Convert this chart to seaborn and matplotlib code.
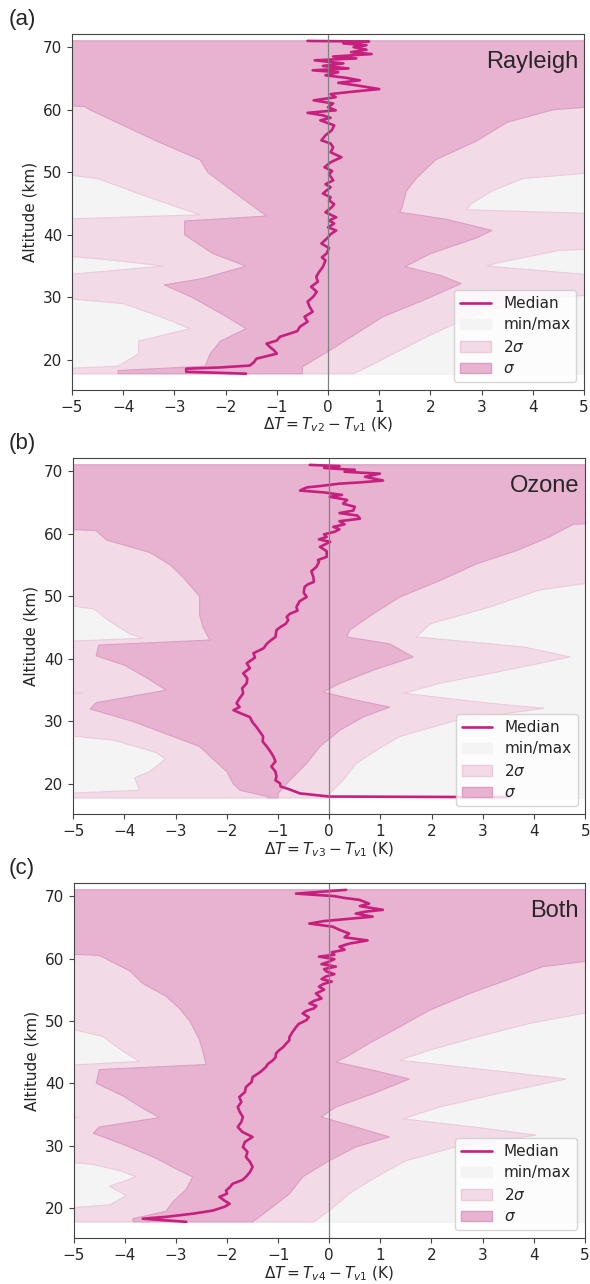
import numpy as np
import matplotlib
matplotlib.use("Agg")
import matplotlib.pyplot as plt
from matplotlib.patches import Patch
from matplotlib.lines import Line2D
import seaborn as sns

# (altitude km, dT K) pairs; +-6 means "beyond the axis"
MED_A = [(71.0, -0.4), (70.9, 0.8), (70.6, 0.3), (70.3, 0.75), (70.0, 0.5), (69.6, 0.75),
         (69.2, 0.45), (68.9, 0.85), (68.5, 0.1), (68.2, 0.55), (67.9, -0.26), (67.4, 0.3),
         (67.0, -0.1), (66.6, 0.4), (66.3, -0.3), (66.0, 0.2), (65.5, -0.05), (65.1, 0.35),
         (64.7, 0.62), (64.3, 0.2), (63.9, 0.55), (63.3, 1.0), (62.9, 0.5), (62.5, 0.05),
         (62.0, 0.15), (61.5, -0.28), (61.0, 0.1), (60.4, 0.0), (59.9, 0.15), (59.5, -0.4),
         (59.1, -0.1), (58.7, 0.05), (58.3, -0.15), (57.5, 0.12), (56.7, 0.07), (55.9, -0.05),
         (55.1, -0.13), (54.6, 0.05), (54.0, 0.1), (53.2, 0.05), (52.4, 0.26), (51.6, 0.05),
         (50.8, -0.07), (50.2, 0.08), (49.7, 0.02), (48.7, 0.1), (48.1, -0.05), (47.6, 0.05),
         (46.6, -0.1), (46.0, 0.05), (45.5, 0.02), (44.9, 0.12), (44.4, 0.07), (43.6, -0.05),
         (42.8, 0.16), (42.3, 0.02), (41.8, 0.12), (41.2, 0.0), (40.7, 0.16), (40.1, 0.05),
         (39.6, 0.0), (38.6, -0.13), (37.9, 0.02), (37.0, -0.03), (36.4, -0.12), (35.9, -0.05),
         (34.9, -0.1), (34.0, -0.18), (33.3, -0.23), (32.5, -0.2), (31.7, -0.33), (30.9, -0.22),
         (30.1, -0.29), (29.3, -0.4), (28.5, -0.36), (27.7, -0.3), (26.9, -0.46), (26.1, -0.4),
         (25.3, -0.55), (24.6, -0.6), (24.2, -0.75), (23.7, -0.94), (23.1, -1.0), (22.6, -1.2),
         (22.1, -1.14), (21.5, -1.05), (21.0, -1.0), (20.6, -1.2), (20.2, -1.4), (19.6, -1.45),
         (19.1, -1.53), (18.8, -2.1), (18.6, -2.77), (18.1, -2.77), (17.8, -1.6)]
SIG_LO_A = [(71.0, -6), (61.0, -6), (60.5, -4.75), (60.0, -4.65), (57.5, -4.0), (55.0, -3.35),
            (52.0, -2.5), (50.0, -2.35), (46.0, -1.7), (43.0, -1.2), (42.2, -2.8), (40.0, -2.8),
            (37.0, -2.25), (35.0, -1.6), (33.0, -2.45), (32.0, -3.2), (30.0, -2.65), (27.0, -2.0),
            (25.0, -1.6), (23.0, -2.1), (21.0, -2.3), (19.0, -2.4), (18.3, -4.1), (17.8, -4.1)]
SIG_HI_A = [(71.0, 6), (61.0, 6), (60.0, 4.4), (58.0, 3.5), (55.0, 2.9), (52.0, 2.1),
            (49.0, 1.72), (47.0, 1.53), (44.5, 1.45), (43.6, 1.4), (42.5, 2.3), (40.7, 3.2),
            (39.5, 2.9), (37.0, 2.0), (34.9, 1.5), (33.5, 2.2), (32.2, 2.6), (29.5, 1.85),
            (26.9, 1.07), (24.2, 0.55), (21.5, 0.03), (18.9, -0.5), (17.8, -0.5)]
TWO_LO_A = [(71.0, -6), (50.5, -6), (49.0, -4.5), (46.0, -3.5), (43.2, -2.5), (42.3, -6),
            (37.2, -6), (36.0, -4.26), (35.0, -3.2), (33.0, -6), (30.5, -6), (29.0, -4.0),
            (27.0, -3.3), (25.0, -2.7), (23.0, -3.7), (21.0, -3.7), (19.0, -4.1), (18.3, -6),
            (17.8, -6)]
TWO_HI_A = [(71.0, 6), (50.5, 6), (49.0, 3.8), (47.0, 3.2), (45.0, 2.8), (44.0, 2.7),
            (43.2, 6), (38.0, 6), (37.5, 4.5), (35.5, 3.3), (35.0, 3.1), (33.0, 6), (31.0, 6),
            (29.5, 3.8), (27.0, 2.8), (24.0, 2.0), (21.5, 1.4), (19.0, 0.8), (17.8, 0.5)]

MED_B = [(71.0, -0.38), (70.8, 0.2), (70.5, -0.1), (70.2, 0.5), (69.9, 0.3), (69.6, 0.99),
         (69.1, 0.7), (68.5, 1.05), (68.2, 0.6), (68.0, 0.2), (67.6, -0.2), (67.4, -0.44),
         (66.9, -0.57), (66.6, -0.1), (66.2, 0.25), (65.9, 0.01), (65.4, 0.35), (64.8, 0.27),
         (64.3, 0.5), (63.7, 0.47), (63.3, 0.2), (62.9, 0.55), (62.4, 0.6), (62.0, 0.2),
         (61.5, 0.3), (61.1, 0.08), (60.7, 0.2), (60.3, 0.1), (59.9, -0.1), (59.5, -0.05),
         (59.1, -0.2), (58.7, 0.02), (57.9, -0.18), (57.2, -0.05), (56.3, -0.05), (55.8, -0.22),
         (55.5, -0.2), (54.7, -0.25), (54.0, -0.35), (53.1, -0.31), (52.3, -0.3), (51.9, -0.42),
         (51.5, -0.48), (50.6, -0.5), (49.9, -0.44), (49.2, -0.58), (48.3, -0.64), (47.7, -0.62),
         (47.2, -0.77), (46.7, -0.83), (46.2, -0.8), (45.6, -0.85), (45.1, -0.95), (44.6, -1.03),
         (43.5, -1.05), (42.9, -1.15), (42.4, -1.22), (41.7, -1.28), (40.9, -1.48), (40.2, -1.45),
         (39.3, -1.61), (38.5, -1.55), (37.7, -1.68), (36.9, -1.6), (36.1, -1.61), (35.3, -1.7),
         (34.5, -1.68), (33.7, -1.75), (32.9, -1.81), (32.3, -1.75), (31.8, -1.87), (31.2, -1.7),
         (30.7, -1.55), (29.9, -1.5), (29.1, -1.42), (28.3, -1.35), (27.6, -1.29), (26.8, -1.3),
         (26.0, -1.22), (25.2, -1.15), (24.4, -1.09), (23.6, -1.05), (22.8, -1.13), (22.0, -1.05),
         (21.2, -1.03), (20.6, -1.05), (20.1, -0.96), (19.6, -0.95), (19.3, -0.83), (18.9, -0.7),
         (18.5, -0.57), (18.0, 0.0), (17.9, 3.5)]
SIG_LO_B = [(71.0, -6), (61.0, -6), (60.5, -4.55), (59.0, -4.35), (57.0, -3.5), (55.0, -3.1),
            (53.0, -2.85), (50.0, -2.53), (47.0, -2.53), (45.0, -2.46), (43.0, -2.33),
            (42.2, -4.5), (40.5, -4.55), (39.0, -4.0), (37.0, -3.57), (35.0, -3.18),
            (33.0, -4.55), (32.0, -4.67), (30.0, -3.83), (28.0, -3.18), (26.0, -2.53),
            (24.0, -2.27), (22.0, -2.0), (20.0, -1.87), (19.0, -1.74), (18.0, -1.2), (17.8, -1.2)]
SIG_HI_B = [(71.0, 6), (62.0, 6), (61.5, 4.76), (59.5, 4.3), (57.3, 3.66), (55.2, 2.88),
            (52.5, 2.16), (49.9, 1.38), (47.2, 0.86), (44.6, 0.4), (43.5, 0.34), (42.4, 1.18),
            (40.3, 1.64), (38.2, 0.86), (36.1, 0.21), (34.7, -0.12), (33.4, 0.53), (32.3, 1.18),
            (30.7, 0.66), (28.6, 0.21), (26.0, -0.18), (23.3, -0.44), (20.6, -0.77),
            (18.5, -1.0), (17.8, -1.0)]
TWO_LO_B = [(71.0, -6), (49.5, -6), (48.0, -4.6), (46.0, -4.28), (44.0, -3.9), (43.3, -3.63),
            (42.5, -6), (35.5, -6), (34.5, -4.8), (33.5, -6), (28.5, -6), (27.0, -4.2),
            (25.0, -3.37), (24.0, -3.2), (22.0, -3.5), (21.0, -3.8), (19.0, -3.7), (18.2, -6),
            (17.8, -6)]
TWO_HI_B = [(71.0, 6), (52.5, 6), (52.0, 4.96), (51.0, 4.1), (48.3, 3.14), (45.6, 1.97),
            (43.5, 1.7), (41.9, 3.8), (40.3, 4.7), (38.2, 3.46), (36.1, 2.16), (34.5, 1.45),
            (32.9, 3.14), (32.1, 4.2), (30.2, 2.49), (27.6, 1.38), (25.4, 0.92), (23.3, 0.53),
            (20.6, 0.27), (18.5, 0.01), (17.8, 0.0)]

MED_C = [(71.0, 0.33), (70.4, -0.65), (70.0, 0.1), (69.7, 0.3), (69.4, 0.59), (68.8, 0.78),
         (68.4, 0.6), (67.8, 1.05), (67.5, 0.7), (67.2, 0.52), (66.7, 0.85), (66.3, 0.3),
         (66.0, -0.1), (65.6, -0.39), (65.1, 0.07), (64.6, 0.2), (64.0, 0.39), (63.4, 0.3),
         (62.9, 0.75), (62.4, 0.4), (61.9, 0.2), (61.4, 0.3), (61.0, 0.05), (60.6, 0.1),
         (60.3, -0.2), (59.9, 0.1), (59.5, 0.0), (59.1, -0.15), (58.7, 0.13), (58.3, -0.1),
         (57.9, -0.05), (57.5, 0.1), (57.1, -0.07), (56.7, -0.15), (56.3, 0.05), (55.9, -0.12),
         (55.5, -0.2), (55.0, -0.1), (54.4, -0.26), (53.6, -0.15), (53.2, -0.3), (52.8, -0.39),
         (52.4, -0.25), (52.0, -0.3), (51.6, -0.45), (51.2, -0.52), (50.6, -0.4), (50.1, -0.45),
         (49.5, -0.6), (49.0, -0.65), (48.2, -0.72), (47.4, -0.78), (46.9, -0.78), (46.3, -0.85),
         (45.8, -0.9), (45.3, -0.98), (44.8, -1.04), (44.2, -1.05), (43.7, -1.1), (43.1, -1.2),
         (42.6, -1.24), (41.8, -1.35), (41.0, -1.5), (40.2, -1.52), (39.4, -1.63), (38.6, -1.65),
         (37.8, -1.76), (37.0, -1.72), (36.2, -1.79), (35.4, -1.75), (34.6, -1.69), (33.8, -1.72),
         (33.0, -1.79), (32.2, -1.7), (31.4, -1.5), (30.6, -1.65), (29.8, -1.69), (29.0, -1.6),
         (28.2, -1.63), (27.4, -1.55), (26.6, -1.5), (25.8, -1.55), (25.0, -1.63), (24.5, -1.7),
         (23.9, -1.89), (23.3, -1.95), (22.8, -2.02), (22.3, -2.0), (21.8, -2.15), (21.2, -2.05),
         (20.7, -1.95), (20.2, -2.05), (19.6, -2.28), (19.1, -2.67), (18.6, -3.19), (18.3, -3.65),
         (17.8, -2.8)]
SIG_LO_C = [(71.0, -6), (61.0, -6), (60.5, -4.5), (58.0, -3.9), (56.0, -3.65), (54.0, -3.2),
            (52.0, -2.93), (50.0, -2.73), (47.0, -2.54), (45.0, -2.47), (43.0, -2.41),
            (42.2, -4.5), (40.0, -4.56), (38.0, -4.04), (36.0, -3.65), (34.5, -3.32),
            (33.0, -4.5), (32.0, -4.62), (30.0, -3.97), (28.0, -3.39), (26.0, -2.93),
            (25.0, -2.67), (23.0, -2.8), (21.0, -3.06), (19.5, -3.19), (18.3, -3.84), (17.8, -3.84)]
SIG_HI_C = [(71.0, 6), (60.5, 6), (58.7, 4.18), (56.5, 3.46), (54.4, 2.75), (51.7, 1.96),
            (49.0, 1.37), (46.4, 0.78), (44.2, 0.33), (43.4, 0.13), (42.1, 0.85), (40.7, 1.57),
            (38.3, 0.85), (36.2, 0.13), (34.6, -0.16), (33.0, 0.52), (31.4, 1.18), (29.8, 0.52),
            (27.6, 0.0), (25.0, -0.52), (22.3, -0.78), (19.6, -1.2), (17.8, -1.5)]
TWO_LO_C = [(71.0, -6), (50.0, -6), (48.5, -4.95), (47.5, -4.43), (45.5, -4.1), (43.5, -3.71),
            (42.5, -6), (35.5, -6), (34.5, -4.9), (33.5, -6), (28.0, -6), (27.0, -4.62),
            (26.0, -4.1), (25.0, -3.78), (23.5, -4.3), (22.0, -3.97), (20.5, -4.3), (19.5, -6),
            (17.8, -6)]
TWO_HI_C = [(71.0, 6), (51.5, 6), (51.2, 4.97), (49.6, 3.92), (47.4, 2.88), (45.3, 1.96),
            (43.7, 1.37), (42.1, 3.14), (40.7, 4.64), (38.3, 3.27), (36.2, 2.16), (34.3, 1.44),
            (33.0, 2.81), (31.7, 4.05), (29.8, 2.48), (27.6, 1.5), (25.0, 0.92), (22.3, 0.39),
            (19.6, 0.0), (17.8, -0.3)]

MINMAX_LO = [(71.0, -6), (17.8, -6)]
MINMAX_HI = [(71.0, 6), (17.8, 6)]

PANELS = ["(a)", "(b)", "(c)"]
NAMES = ["Rayleigh", "Ozone", "Both"]
XLABELS = [r"$\Delta T = T_{v2} - T_{v1}$ (K)",
           r"$\Delta T = T_{v3} - T_{v1}$ (K)",
           r"$\Delta T = T_{v4} - T_{v1}$ (K)"]

C_MED = "#c61f7e"
C_SIG = "#e8b3d1"
C_TWO = "#f2dbe7"
C_MM = "#f4f4f4"


def band(ax, lo, hi, color, edge):
    lo = np.array(lo)
    hi = np.array(hi)
    xs = np.concatenate([lo[:, 1], hi[::-1, 1]])
    ys = np.concatenate([lo[:, 0], hi[::-1, 0]])
    ax.fill(xs, ys, fc=color, lw=0.8, ec=edge)


def draw(ax, med, sig_lo, sig_hi, two_lo, two_hi, i):
    band(ax, MINMAX_LO, MINMAX_HI, C_MM, C_MM)
    band(ax, two_lo, two_hi, C_TWO, "#eccadc")
    band(ax, sig_lo, sig_hi, C_SIG, "#dc9ec3")
    m = np.array(med)
    sns.lineplot(x=m[:, 1], y=m[:, 0], orient="y", sort=False, estimator=None,
                 color=C_MED, lw=1.9, ax=ax)
    ax.axvline(0, color="#808080", lw=0.9)

    ax.set_xlim(-5, 5)
    ax.set_ylim(15.2, 72.1)
    ax.set_xticks(range(-5, 6))
    ax.set_yticks([20, 30, 40, 50, 60, 70])
    ax.set_xlabel(XLABELS[i], fontsize=11, labelpad=1)
    ax.set_ylabel("Altitude (km)", fontsize=11)
    ax.tick_params(labelsize=11, color="#444444")
    for s in ax.spines.values():
        s.set_color("#444444")
        s.set_visible(True)

    ax.text(0.988, 0.92, NAMES[i], transform=ax.transAxes, ha="right", va="center",
            fontsize=17, family="Liberation Sans")

    handles = [Line2D([], [], color=C_MED, lw=1.9),
               Patch(facecolor=C_MM, edgecolor=C_MM),
               Patch(facecolor=C_TWO, edgecolor="#eccadc"),
               Patch(facecolor=C_SIG, edgecolor="#dc9ec3")]
    ax.legend(handles, ["Median", "min/max", r"$2\sigma$", r"$\sigma$"],
              loc="lower right", fontsize=11, framealpha=0.8, labelspacing=0.42)


sns.set_style("ticks")
plt.rcParams['font.family'] = ['DejaVu Sans']

fig = plt.figure(figsize=(5.9, 12.84), dpi=100)
boxes = [[0.122, 0.6963, 0.868, 0.2772],
         [0.124, 0.366, 0.868, 0.2773],
         [0.125, 0.0358, 0.866, 0.2765]]
data = [(MED_A, SIG_LO_A, SIG_HI_A, TWO_LO_A, TWO_HI_A),
        (MED_B, SIG_LO_B, SIG_HI_B, TWO_LO_B, TWO_HI_B),
        (MED_C, SIG_LO_C, SIG_HI_C, TWO_LO_C, TWO_HI_C)]

for i in range(3):
    ax = fig.add_axes(boxes[i])
    draw(ax, *data[i], i)
    fig.text(0.015, boxes[i][1] + boxes[i][3] + 0.011, PANELS[i], fontsize=16,
             family="Liberation Sans", va="center", ha="left")

fig.savefig("out.png", dpi=100)
plt.close('all')
